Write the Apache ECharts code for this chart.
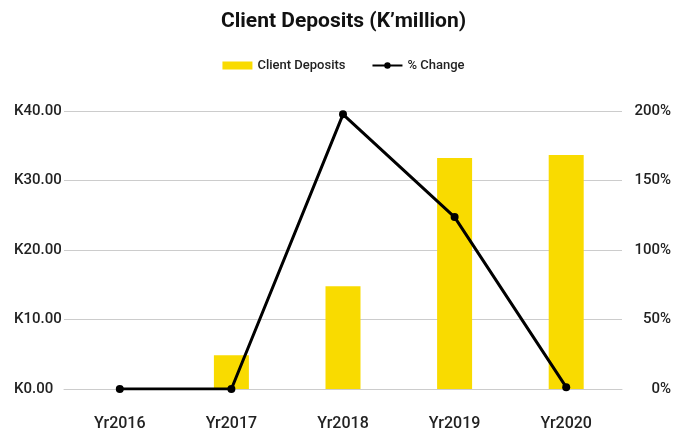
<!DOCTYPE html>
<html>
<head>
<meta charset="utf-8">
<script src="https://cdn.jsdelivr.net/npm/echarts@6/dist/echarts.min.js"></script>
<style>
  html, body { margin: 0; padding: 0; background: #fff; }
  #chart { width: 687px; height: 434px; }
</style>
</head>
<body>
<div id="chart"></div>
<script>
const years = ['Yr2016', 'Yr2017', 'Yr2018', 'Yr2019', 'Yr2020'];
const deposits = [0, 4.86, 14.8, 33.24, 33.67];
const pctChange = [0, 0, 197.6, 123.7, 1.3];

const textColor = '#222';
const barColor = '#f9db00';

const chart = echarts.init(document.getElementById('chart'));
chart.setOption({
    textStyle: { fontFamily: 'Roboto' },
    title: {
        text: 'Client Deposits (K\u2019million)',
        left: 'center',
        top: 6,
        textStyle: { fontSize: 21, fontWeight: 'bold', color: '#111', fontFamily: 'Roboto' }
    },
    legend: {
        top: 54,
        left: 'center',
        itemGap: 26,
        itemWidth: 30,
        itemHeight: 8,
        textStyle: { fontSize: 13, fontWeight: 500, color: textColor },
        data: [
            { name: 'Client Deposits', icon: 'rect' },
            { name: '% Change' }
        ]
    },
    grid: { left: 64, right: 65, top: 111, bottom: 45 },
    xAxis: {
        type: 'category',
        data: years,
        axisLine: { lineStyle: { color: '#ccc' } },
        axisTick: { show: false },
        axisLabel: { color: textColor, fontSize: 16, fontWeight: 500, margin: 27 }
    },
    yAxis: [
        {
            type: 'value',
            min: 0, max: 40, interval: 10,
            axisLine: { show: false },
            axisTick: { show: false },
            splitLine: { lineStyle: { color: '#ccc', width: 1 } },
            axisLabel: {
                color: textColor, fontSize: 15, fontWeight: 500, align: 'left', margin: 50,
                formatter: v => 'K' + v.toFixed(2)
            }
        },
        {
            type: 'value',
            min: 0, max: 200, interval: 50,
            axisLine: { show: false },
            axisTick: { show: false },
            splitLine: { show: false },
            axisLabel: {
                color: textColor, fontSize: 15, fontWeight: 500, align: 'right', margin: 49,
                formatter: '{value}%'
            }
        }
    ],
    series: [
        {
            name: 'Client Deposits',
            type: 'bar',
            data: deposits,
            barWidth: 35,
            itemStyle: { color: barColor }
        },
        {
            name: '% Change',
            type: 'line',
            yAxisIndex: 1,
            data: pctChange,
            symbol: 'circle',
            symbolSize: 8,
            lineStyle: { color: '#000', width: 3 },
            itemStyle: { color: '#000' }
        }
    ]
});
</script>
</body>
</html>
